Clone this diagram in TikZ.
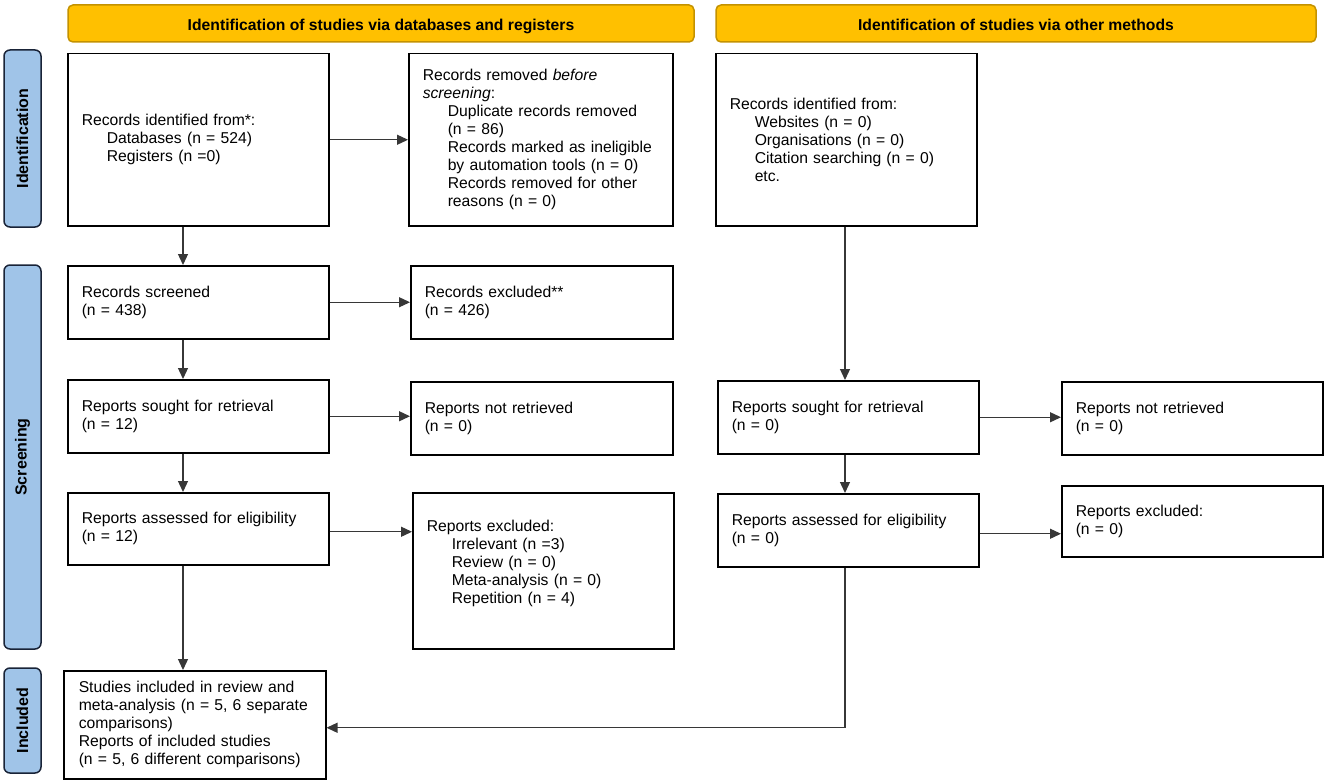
\documentclass[tikz,border=0pt]{standalone}
\usepackage{fontspec}
\setmainfont{Liberation Sans}
\usetikzlibrary{arrows.meta}
\definecolor{hdrfill}{RGB}{255,192,0}
\definecolor{hdrdraw}{RGB}{196,146,0}
\definecolor{sidefill}{RGB}{160,196,232}
\definecolor{sidedraw}{RGB}{25,35,55}
\definecolor{arrcol}{RGB}{55,55,55}
\newcommand{\ind}{\hspace*{25pt}}
\begin{document}
\begin{tikzpicture}[x=1pt,y=-1pt,
  txt/.style={font=\fontsize{15.7}{18}\selectfont},
  box/.style={draw=black, line width=1.5pt, fill=white, anchor=north west,
    inner xsep=14pt, inner ysep=0pt, align=left, txt},
  hdr/.style={draw=hdrdraw, line width=1.5pt, fill=hdrfill, rounded corners=5pt,
    font=\fontsize{15.7}{18}\selectfont\bfseries, inner sep=0pt,
    text height=16pt, text depth=2.8pt},
  side/.style={draw=sidedraw, line width=1.5pt, fill=sidefill, rounded corners=6pt,
    font=\fontsize{16}{18}\selectfont\bfseries, inner sep=0pt, rotate=90},
  arr/.style={draw=arrcol, line width=1.3pt, -{Triangle[length=11pt,width=10pt]}}
]
\useasboundingbox (0,0) rectangle (1325,781);

% headers
\node[hdr, minimum width=626pt, minimum height=37pt] (h1) at (381,23.5) {Identification of studies via databases and registers};
\node[hdr, minimum width=600pt, minimum height=37pt] (h2) at (1016,23.5) {Identification of studies via other methods};

% side bars
\node[side, minimum width=177pt, minimum height=37pt] (s1) at (22.5,138.5) {Identification};
\node[side, minimum width=384pt, minimum height=37pt] (s2) at (22.5,457) {Screening};
\node[side, minimum width=105pt, minimum height=37pt] (s3) at (22.5,720.5) {Included};

% left column boxes
\node[box, minimum width=261pt, minimum height=172pt, text width=233pt] (a) at (67,53)
  {Records identified from*:\\ \ind Databases (n = 524)\\ \ind Registers (n =0)};
\node[box, minimum width=264pt, minimum height=172pt, text width=236pt] (b) at (408,53)
  {Records removed \textit{before}\\ \textit{screening}:\\
   \ind Duplicate records removed\\ \ind (n = 86)\\
   \ind Records marked as ineligible\\ \ind by automation tools (n = 0)\\
   \ind Records removed for other\\ \ind reasons (n = 0)};
\node[box, minimum width=261pt, minimum height=172pt, text width=233pt] (c) at (715,53)
  {Records identified from:\\ \ind Websites (n = 0)\\ \ind Organisations (n = 0)\\
   \ind Citation searching (n = 0)\\ \ind etc.};

\node[box, minimum width=261pt, minimum height=73pt, text width=233pt] (d) at (67,265)
  {Records screened\\ (n = 438)};
\node[box, minimum width=262pt, minimum height=73pt, text width=234pt] (e) at (410,265)
  {Records excluded**\\ (n = 426)};
\node[box, minimum width=261pt, minimum height=73pt, text width=233pt] (f) at (67,379)
  {Reports sought for retrieval\\ (n = 12)};
\node[box, minimum width=262pt, minimum height=73pt, text width=234pt] (g) at (410,381)
  {Reports not retrieved\\ (n = 0)};
\node[box, minimum width=261pt, minimum height=72pt, text width=233pt] (h) at (67,492)
  {Reports assessed for eligibility\\ (n = 12)};
\node[box, minimum width=261pt, minimum height=156pt, text width=233pt] (i) at (412,492)
  {Reports excluded:\\ \ind Irrelevant (n =3)\\ \ind Review (n = 0)\\
   \ind Meta-analysis (n = 0)\\ \ind Repetition (n = 4)\\ \mbox{}};

% right column boxes
\node[box, minimum width=261pt, minimum height=73pt, text width=233pt] (fr) at (717,380)
  {Reports sought for retrieval\\ (n = 0)};
\node[box, minimum width=261pt, minimum height=73pt, text width=233pt] (gr) at (1061,381)
  {Reports not retrieved\\ (n = 0)};
\node[box, minimum width=261pt, minimum height=73pt, text width=233pt] (hr) at (717,493)
  {Reports assessed for eligibility\\ (n = 0)};
\node[box, minimum width=261pt, minimum height=71pt, text width=233pt] (ir) at (1061,485)
  {Reports excluded:\\ (n = 0)};

% included
\node[box, minimum width=262pt, minimum height=108pt, text width=232pt] (j) at (63,670)
  {Studies included in review and\\ meta-analysis (n = 5, 6 separate\\ comparisons)\\
   Reports of included studies\\ (n = 5, 6 different comparisons)};

% connectors
\coordinate (xl) at (183,0);
\coordinate (xr) at (845,0);
\draw[arr] (a.south -| xl) -- (d.north -| xl);
\draw[arr] (d.south -| xl) -- (f.north -| xl);
\draw[arr] (f.south -| xl) -- (h.north -| xl);
\draw[arr] (h.south -| xl) -- (j.north -| xl);
\draw[arr] (a.east) -- (b.west |- a.east);
\draw[arr] (d.east) -- (e.west |- d.east);
\draw[arr] (f.east) -- (g.west |- f.east);
\draw[arr] ([yshift=-3pt]h.east) -- ([yshift=-3pt]i.west |- h.east);
\draw[arr] (c.south -| xr) -- (fr.north -| xr);
\draw[arr] (fr.south -| xr) -- (hr.north -| xr);
\draw[arr] (fr.east) -- (gr.west |- fr.east);
\draw[arr] ([yshift=-3.5pt]hr.east) -- ([yshift=-3.5pt]ir.west |- hr.east);
\draw[arr] (hr.south -| xr) |- ([yshift=-3pt]j.east);
\end{tikzpicture}
\end{document}
